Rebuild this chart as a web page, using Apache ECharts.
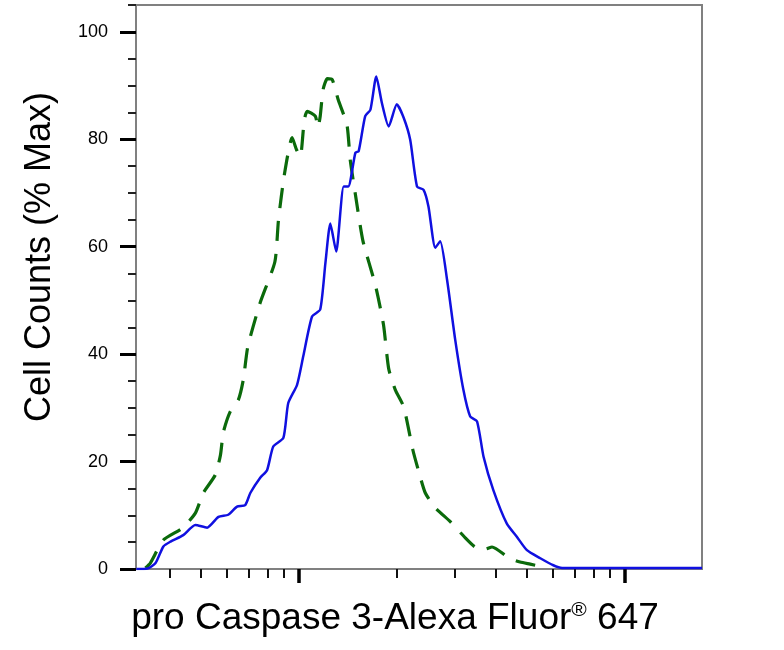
<!DOCTYPE html>
<html>
<head>
<meta charset="utf-8">
<script src="https://cdn.jsdelivr.net/npm/echarts@6/dist/echarts.min.js"></script>
<style>
html,body{margin:0;padding:0;background:#fff;}
#chart{width:784px;height:650px;}
</style>
</head>
<body>
<div id="chart"></div>
<script>
// x values are log10(fluorescence intensity); y values are % of max cell count
var stainedLogX = [2.501,2.535,2.560,2.584,2.606,2.645,2.682,2.718,2.753,2.783,2.810,2.835,2.851,2.881,2.902,2.921,2.952,2.967,2.994,3.013,3.040,3.065,3.081,3.096,3.114,3.137,3.151,3.173,3.183,3.203,3.219,3.237,3.254,3.275,3.300,3.321,3.341,3.362,3.382,3.397,3.418,3.433,3.454,3.479,3.504,3.525,3.546,3.566,3.596,3.637,3.668,3.699,3.740,3.780,3.807,4.236];
var stainedCounts = [0,0.1,1.1,4.2,5.1,6.3,8.2,7.7,9.7,10.1,11.6,11.9,14.2,17.0,18.4,22.8,24.4,30.9,34.3,39.6,47.0,48.3,57.0,64.3,59.1,71.2,71.2,77.5,77.8,84.3,85.5,91.7,86.8,82.4,86.5,84.0,79.9,71.2,70.6,67.5,59.8,61.0,53.9,42.7,33.4,28.4,27.5,20.9,14.7,8.5,6.0,3.5,2.0,0.7,0.2,0.2];

var controlLogX = [2.529,2.544,2.584,2.642,2.682,2.707,2.743,2.759,2.768,2.789,2.814,2.829,2.843,2.881,2.926,2.937,2.955,2.979,2.992,3.004,3.016,3.025,3.050,3.058,3.065,3.074,3.087,3.102,3.120,3.147,3.157,3.174,3.196,3.234,3.259,3.275,3.295,3.321,3.349,3.366,3.387,3.418,3.464,3.510,3.540,3.571,3.592,3.645,3.678,3.709,3.755];
var controlCounts = [0.2,1.1,5.4,7.6,10.4,14.2,17.5,21.2,25.5,29.3,31.5,35.2,41.4,49.6,57.2,65.0,73.4,80.3,78.1,76.8,83.5,85.2,84.3,82.2,84.3,89.3,91.3,91.1,87.4,82.7,76.2,69.3,61.1,52.9,45.5,37.3,33.4,30.2,22.2,18.4,14.2,11.4,8.8,5.8,4.1,3.7,4.1,2.0,1.3,0.9,0.3];

var xMajorTicks = [1000, 10000];
var xMinorTicks = [400,500,600,700,800,900,2000,3000,4000,5000,6000,7000,8000,9000];
var yMajorTicks = [0,20,40,60,80,100];
var yMinorTicks = [5,10,15,25,30,35,45,50,55,65,70,75,85,90,95,105];

var xMin = 2.5, xMax = 4.236, yMin = 0, yMax = 105;

function pairs(xs, ys){ return xs.map(function(x,i){ return [x, ys[i]]; }); }
function logs(arr){ return arr.map(function(v){ return Math.log10(v); }); }

var chart = echarts.init(document.getElementById('chart'));
var font = 'Liberation Sans, Arial, sans-serif';
chart.setOption({
  animation: false,
  backgroundColor: '#fff',
  grid: {left: 136, right: 82, top: 5, bottom: 81, show: true, borderColor: '#808080', borderWidth: 2, containLabel: false},
  xAxis: [
    {
      type: 'value', min: xMin, max: xMax, position: 'bottom',
      axisLine: {show: true, lineStyle: {color: '#808080', width: 2}},
      axisTick: {show: true, customValues: logs(xMinorTicks), length: 9, lineStyle: {color: '#111', width: 2}},
      axisLabel: {show: false},
      splitLine: {show: false},
      name: '{a|pro Caspase 3-Alexa Fluor}{r|®}{a| 647}',
      nameLocation: 'middle', nameGap: 31,
      nameTextStyle: {
        padding: [0, 48, 0, 0],
        rich: {
          a: {fontSize: 37, fontFamily: font, color: '#000'},
          r: {fontSize: 21, fontFamily: font, color: '#000', verticalAlign: 'top'}
        }
      }
    },
    {
      type: 'value', min: xMin, max: xMax, position: 'bottom',
      axisLine: {show: false},
      axisTick: {show: true, customValues: logs(xMajorTicks), length: 14, lineStyle: {color: '#000', width: 3.5}},
      axisLabel: {show: false},
      splitLine: {show: false}
    }
  ],
  yAxis: [
    {
      type: 'value', min: yMin, max: yMax, position: 'left',
      axisLine: {show: true, lineStyle: {color: '#808080', width: 2}},
      axisTick: {show: true, customValues: yMajorTicks, length: 16, lineStyle: {color: '#000', width: 3}},
      axisLabel: {show: true, customValues: yMajorTicks, fontSize: 18, fontFamily: font, color: '#000', margin: 28},
      splitLine: {show: false},
      name: 'Cell Counts (% Max)',
      nameLocation: 'middle', nameGap: 78,
      nameTextStyle: {fontSize: 36, fontFamily: font, color: '#000', padding: [0, 0, 0, 60]}
    },
    {
      type: 'value', min: yMin, max: yMax, position: 'left',
      axisLine: {show: false},
      axisTick: {show: true, customValues: yMinorTicks, length: 8, lineStyle: {color: '#222', width: 2}},
      axisLabel: {show: false},
      splitLine: {show: false}
    }
  ],
  series: [
    {
      name: 'Control', type: 'line', xAxisIndex: 0, yAxisIndex: 0,
      data: pairs(controlLogX, controlCounts),
      showSymbol: false, smooth: 0.2,
      lineStyle: {color: '#0b6a0b', width: 3.2, type: [20, 13]}
    },
    {
      name: 'pro Caspase 3', type: 'line', xAxisIndex: 0, yAxisIndex: 0,
      data: pairs(stainedLogX, stainedCounts),
      showSymbol: false, smooth: 0.2,
      lineStyle: {color: '#1010e0', width: 2.5}
    }
  ]
});
</script>
</body>
</html>
